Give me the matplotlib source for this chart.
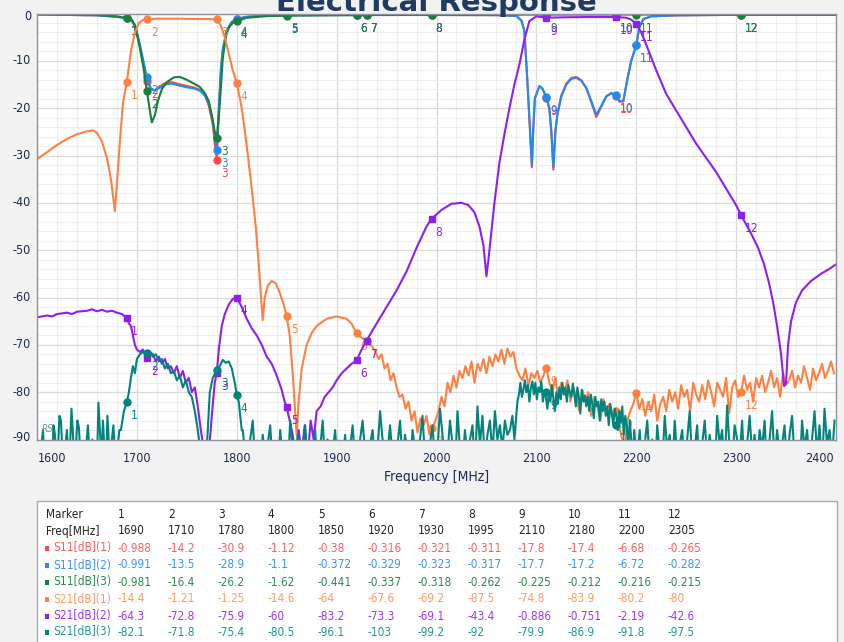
import matplotlib
matplotlib.use("Agg")
import matplotlib.pyplot as plt
import numpy as np
from matplotlib.patches import Rectangle
from matplotlib.ticker import MultipleLocator

plt.rcParams["font.family"] = ["DejaVu Sans"]
plt.rcParams["font.stretch"] = "condensed"
plt.rcParams["axes.unicode_minus"] = False

# ---- marker table ----
marker_freqs = [1690, 1710, 1780, 1800, 1850, 1920, 1930, 1995, 2110, 2180, 2200, 2305]
m_s11_1 = [-0.988, -14.2, -30.9, -1.12, -0.38, -0.316, -0.321, -0.311, -17.8, -17.4, -6.68, -0.265]
m_s11_2 = [-0.991, -13.5, -28.9, -1.1, -0.372, -0.329, -0.323, -0.317, -17.7, -17.2, -6.72, -0.282]
m_s11_3 = [-0.981, -16.4, -26.2, -1.62, -0.441, -0.337, -0.318, -0.262, -0.225, -0.212, -0.216, -0.215]
m_s21_1 = [-14.4, -1.21, -1.25, -14.6, -64, -67.6, -69.2, -87.5, -74.8, -83.9, -80.2, -80]
m_s21_2 = [-64.3, -72.8, -75.9, -60, -83.2, -73.3, -69.1, -43.4, -0.886, -0.751, -2.19, -42.6]
m_s21_3 = [-82.1, -71.8, -75.4, -80.5, -96.1, -103, -99.2, -92, -79.9, -86.9, -91.8, -97.5]

x_ticks = [1600, 1700, 1800, 1900, 2000, 2100, 2200, 2300, 2400]
y_ticks = [0, -10, -20, -30, -40, -50, -60, -70, -80, -90]

# ---- S11 traces (freq MHz, dB) ----
s11_1_pts = [(1600, -0.2), (1660, -0.4), (1680, -0.7), (1690, -0.988), (1695, -1.6), (1699, -3.2),
             (1703, -7), (1707, -11), (1710, -14.2), (1714, -16), (1718, -16.2), (1722, -15.5),
             (1728, -14.7), (1735, -14.5), (1742, -14.9), (1750, -15.3), (1757, -15.6), (1763, -16.1),
             (1768, -17.2), (1772, -19.5), (1776, -23.5), (1778, -27.5), (1780, -30.9), (1782, -21),
             (1784, -12.5), (1786, -7.8), (1790, -3.6), (1795, -1.8), (1800, -1.12), (1810, -0.7),
             (1830, -0.45), (1850, -0.38), (1920, -0.316), (1930, -0.321), (1995, -0.311), (2060, -0.35),
             (2080, -0.5), (2085, -1.5), (2088, -3.7), (2091, -14.3), (2093.5, -24.5), (2095.5, -32.5),
             (2097, -24), (2098.5, -18), (2103, -15.3), (2106, -15.9), (2110, -17.8), (2113, -20.2),
             (2115, -25), (2117, -33), (2119, -25), (2121, -21.3), (2125, -17.3), (2130, -14.8),
             (2135, -13.6), (2140, -13.4), (2145, -14.1), (2150, -15.8), (2155, -18.8), (2160, -21.9),
             (2165, -19.7), (2170, -17.5), (2175, -16.9), (2180, -17.4), (2183, -18.6), (2187, -18.6),
             (2191, -14), (2195, -9.9), (2200, -6.68), (2203, -3), (2207, -1.2), (2215, -0.6),
             (2240, -0.4), (2305, -0.265), (2400, -0.3)]

s11_2_pts = [(1600, -0.2), (1660, -0.4), (1680, -0.7), (1690, -0.991), (1695, -1.5), (1699, -3),
             (1703, -6.5), (1707, -10.5), (1710, -13.5), (1714, -15.8), (1718, -16.3), (1722, -15.8),
             (1728, -15), (1735, -14.8), (1742, -15.2), (1750, -15.6), (1757, -15.8), (1763, -16.3),
             (1768, -17.3), (1772, -19), (1776, -22.5), (1778, -26), (1780, -28.9), (1782, -20),
             (1784, -12), (1786, -7.5), (1790, -3.5), (1795, -1.8), (1800, -1.1), (1810, -0.7),
             (1830, -0.45), (1850, -0.372), (1920, -0.329), (1930, -0.323), (1995, -0.317), (2060, -0.35),
             (2080, -0.5), (2085, -1.5), (2088, -3.7), (2091, -14.3), (2093.5, -24), (2095.5, -32),
             (2097, -23.5), (2098.5, -17.8), (2103, -15.4), (2106, -15.8), (2110, -17.7), (2113, -20),
             (2115, -25), (2117, -32.5), (2119, -25), (2121, -21.4), (2125, -17.5), (2130, -15),
             (2135, -13.8), (2140, -13.6), (2145, -14.2), (2150, -15.7), (2155, -18.5), (2160, -21.4),
             (2165, -19.5), (2170, -17.5), (2175, -16.8), (2180, -17.2), (2183, -18.5), (2187, -18.5),
             (2191, -14), (2195, -10), (2200, -6.72), (2203, -3), (2207, -1.2), (2215, -0.6),
             (2240, -0.4), (2305, -0.282), (2400, -0.3)]

s11_3_pts = [(1600, -0.15), (1660, -0.3), (1680, -0.6), (1690, -0.981), (1695, -1.3), (1698, -2.4),
             (1703, -7.3), (1707, -12), (1710, -16.4), (1713, -20.5), (1715, -23), (1718, -21.5),
             (1721, -18.5), (1725, -16), (1730, -14.5), (1737, -13.5), (1743, -13.4), (1750, -14),
             (1757, -14.8), (1763, -15.5), (1768, -16.8), (1772, -18.5), (1775, -21.5), (1778, -25),
             (1780, -26.2), (1782, -22), (1784, -16), (1786, -9.5), (1789, -5), (1792, -3), (1796, -2),
             (1800, -1.62), (1810, -0.9), (1830, -0.55), (1850, -0.441), (1920, -0.337), (1930, -0.318),
             (1995, -0.262), (2110, -0.225), (2180, -0.212), (2200, -0.216), (2305, -0.215), (2400, -0.2)]

# ---- S21(1) : smooth part, then noisy part sampled every 3 MHz from 1936 ----
s21_1_pts = [(1600, -30.8), (1610, -29.3), (1620, -27.8), (1630, -26.5), (1640, -25.5), (1650, -24.9),
             (1656, -24.7), (1660, -25.2), (1665, -27), (1670, -30.5), (1674, -35), (1677, -40),
             (1678, -41.8), (1680, -36), (1683, -27), (1686, -19), (1690, -14.4), (1694, -8), (1698, -4),
             (1702, -2), (1706, -1.4), (1710, -1.21), (1720, -1.1), (1740, -1.1), (1760, -1.15),
             (1775, -1.2), (1780, -1.25), (1784, -2.5), (1788, -5), (1792, -8.5), (1796, -12),
             (1800, -14.6), (1805, -20), (1810, -28), (1815, -37), (1819, -45), (1822, -53), (1824, -59),
             (1826, -64.8), (1828, -60), (1831, -57.5), (1835, -56.5), (1839, -57), (1843, -59),
             (1847, -61.5), (1850, -64), (1853, -68), (1856, -76), (1859, -86), (1860, -89), (1862, -82),
             (1865, -75), (1870, -70), (1875, -67.5), (1880, -66), (1890, -64.5), (1900, -64),
             (1910, -64.5), (1915, -65.5), (1920, -67.6), (1925, -68.5), (1930, -69.2)]
s21_1_noise = [-70.5, -71.5, -73, -72, -75, -74, -77.5, -76, -79, -81,
               -80.5, -83.5, -82, -86, -84, -88.5, -85.5, -87, -85, -89,
               -87.5, -86, -84, -81, -83, -78, -80, -76.5, -79, -75.5,
               -77, -74.5, -76.5, -73.5, -78, -74, -75.5, -73, -76, -72.5,
               -74.5, -72, -73.5, -71, -74, -70.8, -72.5, -71.5, -75, -76.5,
               -77.5, -75, -78.5, -76, -77, -75.5, -78, -76.5, -74.8, -78,
               -80, -77, -81.5, -78, -80.5, -77.5, -82, -79, -81, -84,
               -79.5, -82, -80, -85, -81, -83, -86, -81.5, -84, -82.5,
               -85, -84, -86.5, -89, -92, -86, -84, -82.5, -80.2, -83.5,
               -81.5, -85, -82, -84, -80.5, -86, -82.5, -81, -84, -79.5,
               -82, -80, -83.5, -78.5, -81, -79.5, -84, -78, -80.5, -82,
               -78.5, -81.5, -77.5, -80, -83, -78, -79.5, -81, -77, -84.5,
               -79, -77.5, -81, -80, -76.5, -79.5, -78, -82, -77, -79,
               -76.5, -80, -78, -75.5, -79, -77, -81, -76, -78.5, -77.5,
               -75.5, -79, -76.5, -78, -74.5, -77, -79.5, -75, -77.5, -76,
               -74, -77, -75.5, -73.5, -76]

# ---- S21(2) ----
s21_2_pts = [(1600, -64.2), (1610, -63.8), (1615, -64), (1620, -63.5), (1630, -63.2), (1635, -63.5),
             (1640, -63), (1650, -62.8), (1655, -62.5), (1660, -62.9), (1665, -62.6), (1670, -63),
             (1675, -62.8), (1680, -63.2), (1685, -63.5), (1690, -64.3), (1692, -65.5), (1694, -66),
             (1696, -68), (1698, -70), (1700, -71), (1703, -71.5), (1706, -71), (1710, -72.8),
             (1713, -71.5), (1716, -72), (1719, -73.5), (1722, -72.5), (1725, -74), (1728, -73),
             (1731, -75), (1734, -74.5), (1737, -76), (1740, -74.5), (1743, -77), (1746, -75.5),
             (1749, -78), (1752, -77), (1755, -80), (1758, -79), (1761, -83), (1764, -88), (1767, -92),
             (1769, -95), (1772, -93), (1775, -85), (1778, -78), (1780, -75.9), (1782, -71), (1785, -66),
             (1788, -63.5), (1792, -61.5), (1796, -60.3), (1800, -60), (1805, -62), (1810, -64.5),
             (1815, -66.5), (1820, -68), (1825, -70), (1830, -72.5), (1835, -74), (1840, -76.5),
             (1845, -79.5), (1848, -82), (1850, -83.2), (1853, -86), (1856, -89), (1858, -92),
             (1860, -95), (1862, -88), (1865, -93), (1868, -87), (1871, -94), (1874, -86), (1877, -90),
             (1880, -84), (1884, -83), (1888, -81), (1892, -80), (1896, -79), (1900, -77.5),
             (1905, -76), (1910, -75), (1915, -74), (1920, -73.3), (1925, -71), (1930, -69.1),
             (1940, -65.5), (1950, -62), (1960, -58.5), (1970, -54.5), (1980, -49.5), (1990, -45),
             (1995, -43.4), (2005, -41.5), (2015, -40.2), (2025, -40), (2032, -40.5), (2038, -42),
             (2043, -45), (2047, -49), (2050, -55.5), (2052, -52), (2055, -46), (2058, -40),
             (2063, -31.5), (2068, -25.5), (2073, -20), (2078, -15), (2083, -10.8), (2088, -5.5),
             (2093, -1.6), (2100, -0.6), (2110, -0.886), (2130, -0.8), (2150, -0.75), (2170, -0.75),
             (2180, -0.751), (2190, -0.9), (2195, -1.3), (2200, -2.19), (2205, -4), (2210, -6.6),
             (2220, -12), (2230, -17), (2240, -20.5), (2250, -24), (2260, -27.5), (2270, -30.5),
             (2280, -33.5), (2290, -37), (2300, -40.5), (2305, -42.6), (2315, -46.5), (2322, -49.5),
             (2328, -53), (2333, -57), (2337, -61), (2341, -66), (2345, -72), (2348, -78.7),
             (2350, -78), (2352, -70), (2355, -65), (2360, -61), (2366, -58.5), (2375, -56.5),
             (2385, -55), (2393, -54), (2400, -53)]

# ---- S21(3) : floor / bump / floor / band / floor ----
s21_3_floor_a = [-95, -92, -97, -91, -88, -94, -98, -92, -96, -91, -95, -87, -89, -96, -92, -85,
                 -86, -93, -97, -91, -88, -95, -92, -83.5, -89, -96, -91, -86, -87.5, -94, -98, -92,
                 -95, -91, -87, -93, -97, -90, -95, -92, -96, -82.2, -88, -94, -86, -92, -97, -85,
                 -91, -95, -90, -87, -93, -96, -91, -88]
s21_3_bump = [(1684, -88), (1687, -84), (1690, -82.1), (1692, -80), (1694, -77), (1696, -74.5),
              (1698, -76), (1700, -73), (1703, -72), (1706, -71.5), (1710, -71.8), (1713, -71.4),
              (1716, -72.5), (1719, -72), (1722, -73.5), (1725, -73), (1728, -75), (1731, -74),
              (1734, -76), (1737, -75.5), (1740, -77.5), (1743, -76.5), (1746, -79), (1749, -77.5),
              (1752, -80), (1755, -81), (1758, -84), (1761, -88), (1764, -93), (1767, -95),
              (1770, -92), (1773, -80), (1776, -77), (1780, -75.4), (1783, -74.5), (1786, -73.2),
              (1789, -73.8), (1792, -73.5), (1795, -75), (1798, -78), (1800, -80.5), (1802, -82),
              (1805, -88)]
s21_3_floor_c = [-88, -93, -97, -90, -86, -95, -92, -98, -89, -94,
                 -91, -87, -96, -93, -99, -88, -94, -91, -97, -86,
                 -92, -95, -89, -98, -93, -87, -96, -91, -94, -88,
                 -97, -92, -86, -95, -90, -98, -93, -88, -96, -91,
                 -95, -89, -97, -92, -87, -94, -99, -90, -86, -93,
                 -96, -91, -88, -95, -92, -84, -90, -97, -93, -87,
                 -94, -98, -91, -86, -95, -89, -93, -97, -88, -92,
                 -96, -90, -85, -94, -98, -91, -87, -95, -92, -83.5,
                 -89, -96, -93, -86, -91, -97, -84, -92, -95, -88,
                 -94, -90, -87, -96, -83, -91, -85, -95, -89, -86,
                 -93, -84, -90, -87, -92, -86, -89, -88, -85]
s21_3_band = [-90, -86, -82, -80.5, -78, -81, -79.5, -77.5, -80, -78.5,
              -82, -79, -77.7, -80.5, -78, -81.5, -79, -80, -77.8, -82,
              -79.9, -81, -83.5, -80, -82, -78.5, -81.3, -84, -80, -82.5,
              -79, -81.5, -78, -80.5, -79, -82, -78.5, -80, -81, -78.2,
              -80.5, -83, -79, -81, -84.5, -79.5, -82, -80.7, -83, -81,
              -84, -80.5, -82.5, -85.5, -81, -83, -82, -86, -81.5, -84,
              -82, -85, -83, -87, -82.5, -84.5, -86.9, -83.5, -85, -88,
              -84, -86.5, -83, -89, -85, -87, -92, -86, -90, -95,
              -88, -93]
s21_3_floor_e = [-94, -88, -97, -91, -86, -95, -90, -98, -87, -93,
                 -96, -85, -92, -89, -97, -86, -94, -91, -88, -96,
                 -90, -84, -95, -92, -87, -98, -91, -86, -94, -89,
                 -93, -97, -85, -91, -88, -96, -82.8, -92, -95, -87,
                 -90, -94, -86, -98, -91, -85, -93, -89, -96, -88,
                 -92, -86, -97, -90, -84, -95, -88, -93, -91, -87,
                 -96, -89, -85, -94, -91, -98, -86, -92, -88, -95,
                 -90, -84, -93, -87, -96, -83.5, -91, -88, -94, -86]

row_names = ["S11[dB](1)", "S11[dB](2)", "S11[dB](3)", "S21[dB](1)", "S21[dB](2)", "S21[dB](3)"]
line_colors = ["#ff4a4a", "#1e8cf0", "#17803c", "#ff8040", "#8e1ef2", "#00847c"]
text_colors = ["#ff5c5c", "#3a94f3", "#2a8a50", "#ff9a62", "#9a35ff", "#1f9891"]


def pts(p):
    a = np.array(p, dtype=float)
    return a[:, 0], a[:, 1]


def build_s21_1():
    f0, v0 = pts(s21_1_pts)
    f1 = 1936 + 3 * np.arange(len(s21_1_noise))
    return np.concatenate([f0, f1]), np.concatenate([v0, s21_1_noise])


def build_s21_3():
    fb, vb = pts(s21_3_bump)
    parts_f = [np.linspace(1600, 1682.5, len(s21_3_floor_a)), fb,
               np.linspace(1806, 2076, len(s21_3_floor_c)),
               np.linspace(2078, 2199.5, len(s21_3_band)),
               np.linspace(2201, 2398.5, len(s21_3_floor_e))]
    parts_v = [s21_3_floor_a, vb, s21_3_floor_c, s21_3_band, s21_3_floor_e]
    return np.concatenate(parts_f), np.concatenate([np.asarray(v, float) for v in parts_v])


W, H = 845, 642
fig = plt.figure(figsize=(W / 100, H / 100), dpi=100, facecolor="#f2f2f2")


def box(x0, y0, x1, y1):
    return [x0 / W, 1 - y1 / H, (x1 - x0) / W, (y1 - y0) / H]


ax = fig.add_axes(box(37, 13.5, 836, 439.5))
ax.set_facecolor("white")
ax.set_xlim(1600, 2400)
ax.set_ylim(-90, 0)
ax.xaxis.set_major_locator(MultipleLocator(100))
ax.xaxis.set_minor_locator(MultipleLocator(20))
ax.yaxis.set_major_locator(MultipleLocator(10))
ax.yaxis.set_minor_locator(MultipleLocator(2))
ax.grid(which="major", color="#dadada", lw=0.9)
ax.grid(which="minor", color="#eeeeee", lw=0.8)
ax.set_axisbelow(True)
ax.tick_params(which="both", length=0, labelbottom=False, labelleft=False)
for s in ax.spines.values():
    s.set_color("#8d949e")
    s.set_linewidth(1)

# tick labels, kept inside the plot's width like the reference
tick_color = "#1b2a4e"
for i, t in enumerate(x_ticks):
    ha, dx = "center", 0
    if i == 0:
        ha, dx = "left", 1
    elif i == len(x_ticks) - 1:
        ha, dx = "right", -2
    ax.annotate(str(t), (t, 0), xycoords=ax.get_xaxis_transform(), xytext=(dx, -12),
                textcoords="offset pixels", ha=ha, va="top", fontsize=9, color=tick_color,
                annotation_clip=False)
for t in y_ticks:
    dy = -3 if t == 0 else (2 if t == -90 else 0)
    ax.annotate(str(t), (0, t), xycoords=ax.get_yaxis_transform(), xytext=(-6, dy),
                textcoords="offset pixels", ha="right", va="center", fontsize=9, color=tick_color,
                annotation_clip=False)

traces = [pts(s11_1_pts), pts(s11_2_pts), pts(s11_3_pts), build_s21_1(), pts(s21_2_pts), build_s21_3()]
markers = [m_s11_1, m_s11_2, m_s11_3, m_s21_1, m_s21_2, m_s21_3]
shapes = ["o", "o", "o", "o", "s", "o"]

for k, ((f, v), mv, c) in enumerate(zip(traces, markers, line_colors)):
    z = 2 + k * 0.1
    ax.plot(f, v, color=c, lw=1.5, zorder=z)
    ax.plot(marker_freqs, mv, ls="none", marker=shapes[k], ms=5, color=c, zorder=z + 0.05)
    for i, (mf, val) in enumerate(zip(marker_freqs, mv)):
        ax.annotate(str(i + 1), (mf, val), xytext=(4, -7), textcoords="offset pixels",
                    ha="left", va="top", fontsize=8.5, color=c, annotation_clip=True,
                    clip_on=True, zorder=z + 0.06)

ax.text(0.006, 0.012, "RS", transform=ax.transAxes, fontsize=7, style="italic",
        color="#7d8a99", ha="left", va="bottom")

ax.annotate("Frequency [MHz]", (0.5, 0), xycoords="axes fraction", xytext=(0, -31),
            textcoords="offset pixels", ha="center", va="top", fontsize=10, color=tick_color)

fig.text(436 / W, 1 - 11 / H, "Electrical Response", ha="center", va="baseline",
         fontsize=21, fontweight="bold", fontstretch="normal", color="#1f3b63")

# marker table
fig.add_artist(Rectangle((37 / W, -0.01), (837 - 37) / W, 1.01 - 501 / H, transform=fig.transFigure,
                         facecolor="white", edgecolor="#a8adb4", lw=1))
col_x = [118 + 50 * i for i in range(12)]
row_y = [515, 531, 548, 565, 582, 599, 616, 632]
fs = 8.5
fig.text(46 / W, 1 - row_y[0] / H, "Marker", fontsize=fs, color="#222222", va="center")
fig.text(46 / W, 1 - row_y[1] / H, "Freq[MHz]", fontsize=fs, color="#222222", va="center")
for i, f in enumerate(marker_freqs):
    fig.text(col_x[i] / W, 1 - row_y[0] / H, str(i + 1), fontsize=fs, color="#222222", va="center")
    fig.text(col_x[i] / W, 1 - row_y[1] / H, str(f), fontsize=fs, color="#222222", va="center")
for r, (name, vals, c) in enumerate(zip(row_names, markers, text_colors)):
    y = row_y[r + 2]
    fig.add_artist(Rectangle((45 / W, 1 - (y + 2.5) / H), 4.5 / W, 4.5 / H, transform=fig.transFigure,
                             facecolor=line_colors[r], edgecolor="none"))
    fig.text(53 / W, 1 - y / H, name, fontsize=fs, color=c, va="center")
    for i, val in enumerate(vals):
        fig.text(col_x[i] / W, 1 - y / H, f"{val:g}", fontsize=fs, color=c, va="center")

fig.savefig("out.png", dpi=100, facecolor=fig.get_facecolor())
